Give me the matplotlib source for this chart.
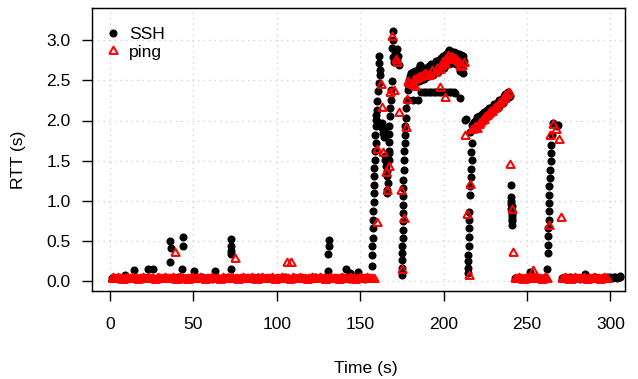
import matplotlib
matplotlib.use("Agg")
import matplotlib.pyplot as plt
import numpy as np

plt.rcParams['font.family'] = ['Liberation Sans', 'DejaVu Sans']

# ---------------- data ----------------
# baseline segments: start time, step (s), RTT values
ssh_base1_start, ssh_base1_step = 1, 2
ssh_base1 = [0.03, 0.03, 0.02, 0.03, 0.04, 0.03, 0.03, 0.02, 0.03, 0.03,
             0.03, 0.04, 0.03, 0.02, 0.03, 0.03, 0.03, 0.03, 0.02, 0.03,
             0.04, 0.03, 0.03, 0.03, 0.02, 0.03, 0.03, 0.04, 0.03, 0.03,
             0.02, 0.03, 0.03, 0.03, 0.03, 0.04, 0.03, 0.02, 0.03, 0.03,
             0.03, 0.03, 0.02, 0.03, 0.04, 0.03, 0.03, 0.03, 0.02, 0.03,
             0.03, 0.03, 0.04, 0.03, 0.02, 0.03, 0.03, 0.03, 0.03, 0.02,
             0.03, 0.04, 0.03, 0.03, 0.03, 0.02, 0.03, 0.03, 0.03, 0.04,
             0.03, 0.02, 0.03, 0.03, 0.03, 0.03, 0.02, 0.03]
ssh_base2_start, ssh_base2_step = 243, 2
ssh_base2 = [0.03, 0.02, 0.03, 0.03, 0.04, 0.03, 0.03, 0.02, 0.03, 0.03]
ssh_base3_start, ssh_base3_step = 271, 1
ssh_base3 = [0.03, 0.03, 0.02, 0.03, 0.03, 0.04, 0.03, 0.02, 0.03, 0.03,
             0.03, 0.02, 0.03, 0.04, 0.03, 0.03, 0.02, 0.03, 0.03, 0.03,
             0.04, 0.03, 0.03, 0.02, 0.03, 0.03, 0.03, 0.04, 0.03, 0.04,
             0.03, 0.05, 0.04, 0.03, 0.05, 0.05]

ping_base1_start, ping_base1_step = 1, 1
ping_base1 = [0.02, 0.03, 0.02, 0.02, 0.03, 0.02, 0.02, 0.01, 0.02, 0.03,
              0.02, 0.02, 0.02, 0.03, 0.02, 0.02, 0.01, 0.02, 0.02, 0.03,
              0.02, 0.02, 0.03, 0.02, 0.02, 0.02, 0.01, 0.02, 0.03, 0.02,
              0.02, 0.02, 0.03, 0.02, 0.02, 0.02, 0.02, 0.03, 0.02, 0.01,
              0.02, 0.03, 0.02, 0.02, 0.02, 0.01, 0.02, 0.02, 0.03, 0.02,
              0.02, 0.02, 0.02, 0.03, 0.02, 0.02, 0.01, 0.02, 0.02, 0.02,
              0.03, 0.02, 0.02, 0.02, 0.02, 0.01, 0.02, 0.03, 0.02, 0.02,
              0.02, 0.02, 0.03, 0.02, 0.02, 0.02, 0.01, 0.02, 0.02, 0.03,
              0.02, 0.02, 0.02, 0.02, 0.03, 0.02, 0.02, 0.01, 0.02, 0.02,
              0.03, 0.02, 0.02, 0.02, 0.02, 0.02, 0.03, 0.02, 0.01, 0.02,
              0.02, 0.02, 0.03, 0.02, 0.02, 0.02, 0.02, 0.01, 0.02, 0.03,
              0.02, 0.02, 0.02, 0.03, 0.02, 0.02, 0.02, 0.01, 0.02, 0.02,
              0.03, 0.02, 0.02, 0.02, 0.02, 0.03, 0.02, 0.02, 0.01, 0.02,
              0.02, 0.03, 0.02, 0.02, 0.02, 0.02, 0.01, 0.02, 0.03, 0.02,
              0.02, 0.02, 0.02, 0.03, 0.02, 0.02, 0.01, 0.02, 0.02, 0.03,
              0.02, 0.02, 0.02, 0.03, 0.02, 0.02, 0.02, 0.02]
ping_base2_start, ping_base2_step = 243, 1
ping_base2 = [0.02, 0.02, 0.03, 0.02, 0.02, 0.01, 0.02, 0.03, 0.02, 0.02,
              0.02, 0.02, 0.03, 0.02, 0.02, 0.02, 0.01, 0.02, 0.03, 0.02]
ping_base3_start, ping_base3_step = 271, 1
ping_base3 = [0.02, 0.02, 0.03, 0.02, 0.02, 0.01, 0.02, 0.02, 0.03, 0.02,
              0.02, 0.02, 0.02, 0.03, 0.02, 0.01, 0.02, 0.02, 0.02, 0.03,
              0.02, 0.02, 0.02, 0.01, 0.02, 0.03, 0.02, 0.02]

# SSH samples away from the baseline (time s, RTT s)
ssh_t = [9.2, 14.6, 22.6, 25.8, 36.0, 36.4, 36.2, 43.8, 43.8, 43.4, 50.6, 62.9,
         72.3, 72.3, 72.3, 72.3, 72.3, 131.1, 131.1, 130.9, 130.9, 141.5, 144.0, 148.5,
         # first outage column
         156.9, 157.3, 157.3, 157.5, 157.9, 157.9, 157.9, 158.3, 158.3, 158.3, 158.3,
         158.3, 158.9, 158.9, 159.5, 159.5, 159.5, 159.9, 160.3, 160.7, 161.5, 161.9,
         161.9, 161.5, 161.5, 159.1, 159.3, 159.9,
         # cluster
         162.9, 163.3, 163.9, 164.5, 164.9, 165.5, 165.9, 166.3, 166.9, 166.3, 165.9,
         167.5, 167.5, 164.1, 165.1,
         # second column
         169.9, 169.5, 168.9, 171.9, 172.9, 173.5, 169.5, 170.3, 168.9, 168.3, 168.3,
         167.9, 167.9, 167.5, 167.5, 167.5, 167.5, 171.0, 172.3,
         # third column
         174.9, 174.9, 175.3, 175.3, 175.3, 175.5, 175.5, 175.5, 175.9, 175.9, 175.9,
         175.9, 175.9, 176.3, 176.3, 176.3, 176.9, 176.9, 176.9, 177.5, 177.5, 177.9,
         # upper band 1
         178.5, 178.5, 179.0, 179.5, 180.0, 180.0, 180.5, 181.0, 181.5, 181.5, 182.0,
         182.5, 183.0, 183.0, 183.5, 184.0, 184.5, 185.0, 185.0, 185.5, 186.0, 186.0,
         186.5, 187.0, 187.5, 188.0, 188.0, 188.5, 189.0, 189.5, 190.0, 190.0, 190.5,
         191.0, 191.0, 191.5, 192.0, 192.5, 193.0, 193.0, 193.5, 194.0, 194.0, 194.5,
         195.0, 195.5, 195.5, 196.0, 196.5, 197.0, 197.0, 197.5, 198.0, 198.0, 198.5,
         199.0, 199.5, 199.5, 200.0, 200.5, 200.5, 201.0, 201.5, 202.0, 202.0, 202.5,
         203.0, 203.5, 203.5, 204.0, 204.5, 205.0, 205.0, 205.5, 206.0, 206.0, 206.5,
         207.0, 207.5, 207.5, 208.0, 208.5, 209.0, 209.0, 209.5, 210.0, 210.0, 210.5,
         211.0, 211.0, 211.5, 211.5, 212.0,
         # lower flat line
         178.9, 181.8, 184.8, 186.5, 188.0, 189.5, 191.0, 192.5, 194.0, 195.5, 197.0,
         198.5, 200.0, 201.5, 203.0, 204.5, 206.0, 207.0, 209.8,
         # fourth column
         213.4, 216.8, 216.8, 216.8, 216.4, 215.8, 215.8, 215.4, 215.4, 215.4, 215.2,
         215.2, 214.8, 214.8, 214.8, 214.8, 216.6, 216.2,
         # upper band 2
         212.8, 216.1, 217.5, 218.0, 218.5, 219.0, 219.5, 220.0, 220.5, 221.0, 221.5,
         222.0, 222.5, 223.0, 223.5, 224.0, 224.5, 225.0, 225.5, 226.0, 226.5, 227.0,
         227.5, 228.0, 228.5, 229.0, 229.5, 230.0, 230.5, 231.0, 231.5, 232.0, 232.5,
         233.0, 233.5, 234.0, 234.5, 235.0, 235.5, 236.0, 236.5, 237.0, 237.5, 238.0,
         238.5, 239.0, 239.5, 240.0,
         # fifth column
         240.2, 240.4, 240.4, 240.6, 240.6, 240.8, 240.8, 240.8, 241.0, 241.0, 241.2,
         241.2, 251.8,
         # sixth column
         262.2, 262.4, 262.8, 262.8, 262.8, 263.2, 263.2, 263.2, 263.4, 263.4, 263.8,
         263.8, 264.2, 264.2, 264.2, 264.8, 265.8, 266.8, 267.8, 268.8, 284.8, 305.8]
ssh_y = [0.077, 0.134, 0.150, 0.142, 0.233, 0.404, 0.492, 0.542, 0.429, 0.150, 0.121, 0.120,
         0.517, 0.433, 0.375, 0.330, 0.140, 0.507, 0.436, 0.330, 0.125, 0.146, 0.090, 0.112,
         0.179, 0.325, 0.429, 0.533, 0.658, 0.762, 0.866, 0.978, 1.094, 1.199, 1.303,
         1.407, 1.511, 1.615, 1.719, 1.927, 2.010, 2.135, 2.239, 2.364, 2.468, 2.572,
         2.634, 2.717, 2.801, 1.820, 2.070, 1.990,
         1.968, 1.906, 1.844, 1.885, 1.511, 1.427, 1.365, 1.303, 1.219, 1.136, 1.094,
         1.594, 1.511, 1.800, 1.560,
         3.113, 3.009, 2.905, 2.892, 2.809, 2.697, 2.790, 2.726, 2.489, 2.376, 2.260,
         2.156, 2.052, 1.935, 1.835, 1.727, 1.615, 2.850, 2.760,
         0.075, 0.158, 0.262, 0.345, 0.429, 0.533, 0.637, 0.741, 0.845, 0.949, 1.053,
         1.157, 1.261, 1.386, 1.511, 1.615, 1.719, 1.823, 1.927, 2.031, 2.156, 2.260,
         2.44, 2.38, 2.50, 2.42, 2.55, 2.46, 2.59, 2.44, 2.52, 2.60, 2.47,
         2.56, 2.50, 2.62, 2.48, 2.58, 2.53, 2.60, 2.49, 2.66, 2.69, 2.55,
         2.51, 2.62, 2.56, 2.65, 2.52, 2.58, 2.63, 2.54, 2.66, 2.57, 2.61,
         2.68, 2.55, 2.62, 2.58, 2.70, 2.60, 2.66, 2.57, 2.71, 2.63, 2.59,
         2.68, 2.62, 2.74, 2.66, 2.60, 2.72, 2.67, 2.76, 2.64, 2.70, 2.78,
         2.68, 2.74, 2.81, 2.70, 2.79, 2.66, 2.75, 2.83, 2.72, 2.80, 2.86,
         2.76, 2.88, 2.70, 2.82, 2.77, 2.85, 2.72, 2.80, 2.86, 2.75, 2.82,
         2.78, 2.84, 2.71, 2.80, 2.76, 2.83, 2.68, 2.79, 2.74, 2.62, 2.82,
         2.77, 2.65, 2.80, 2.59, 2.74,
         2.26, 2.26, 2.25, 2.35, 2.35, 2.35, 2.35, 2.35, 2.35, 2.35, 2.35,
         2.35, 2.35, 2.35, 2.35, 2.35, 2.35, 2.34, 2.28,
         2.018, 1.948, 1.719, 1.511, 1.394, 1.178, 1.074, 0.853, 0.762, 0.658, 0.545,
         0.437, 0.325, 0.241, 0.158, 0.096, 1.610, 1.290,
         2.01, 1.86, 1.90, 1.98, 1.93, 2.00, 1.92, 2.04, 1.96, 2.02, 2.06,
         1.99, 2.04, 2.08, 2.01, 2.06, 2.11, 2.04, 2.09, 2.13, 2.06, 2.11,
         2.15, 2.09, 2.13, 2.17, 2.11, 2.16, 2.20, 2.14, 2.18, 2.22, 2.16,
         2.21, 2.25, 2.19, 2.23, 2.27, 2.22, 2.30, 2.25, 2.33, 2.27, 2.31,
         2.35, 2.29, 2.33, 2.30,
         1.199, 1.050, 0.990, 0.960, 0.900, 0.928, 0.865, 0.803, 0.830, 0.770, 0.740,
         0.699, 0.104,
         0.146, 0.346, 0.449, 0.553, 0.658, 0.762, 0.865, 0.970, 1.074, 1.178, 1.282,
         1.386, 1.490, 1.594, 1.698, 1.823, 1.968, 1.948, 1.930, 1.948, 0.087, 0.054]

# ping samples away from the baseline (time s, RTT s)
ping_t = [39.0, 74.8, 106.3, 108.5,
          160.2, 160.2, 162.2, 163.2, 163.8, 165.2, 167.2, 166.1, 174.2, 173.2, 176.2,
          175.2, 177.2, 178.2, 169.2, 171.2, 172.2, 167.8, 170.1,
          178.8, 179.5, 180.8, 182.0, 182.8, 184.0, 184.8, 186.0, 187.8, 189.0, 190.5,
          191.8, 193.0, 194.8, 196.0, 197.8, 198.8, 199.8, 201.0, 202.0, 202.8, 204.0,
          205.0, 205.8, 207.0, 208.0, 209.0, 209.8, 211.0, 212.0, 197.8, 200.8,
          212.8, 215.8, 214.2, 215.2,
          216.8, 218.0, 219.0, 220.2, 221.0, 222.0, 223.0, 224.0, 225.0, 226.0, 227.0,
          228.0, 229.0, 230.0, 231.0, 232.0, 233.0, 234.0, 235.0, 236.0, 237.0, 238.0,
          239.0,
          239.8, 240.8, 241.8, 253.8,
          263.2, 270.2, 263.8, 265.8, 267.4, 269.4]
ping_y = [0.350, 0.267, 0.217, 0.217,
          0.724, 1.632, 2.443, 2.152, 1.590, 1.348, 1.423, 1.124, 1.120, 2.097, 0.767,
          0.134, 1.903, 2.260, 3.046, 2.755, 2.720, 2.347, 2.372,
          2.48, 2.45, 2.44, 2.50, 2.42, 2.52, 2.53, 2.54, 2.55, 2.58, 2.56,
          2.57, 2.62, 2.59, 2.64, 2.63, 2.68, 2.73, 2.70, 2.75, 2.80, 2.78,
          2.79, 2.76, 2.77, 2.74, 2.72, 2.67, 2.68, 2.72, 2.406, 2.280,
          1.810, 1.190, 0.824, 0.062,
          1.88, 1.90, 1.92, 1.89, 1.95, 1.97, 2.00, 2.01, 2.04, 2.05, 2.08,
          2.10, 2.10, 2.14, 2.16, 2.17, 2.20, 2.22, 2.24, 2.27, 2.30, 2.32,
          2.34,
          1.448, 0.886, 0.346, 0.116,
          0.678, 0.783, 1.810, 1.948, 1.885, 1.752]

series_labels = ["SSH", "ping"]
x_ticks = [0, 50, 100, 150, 200, 250, 300]
y_ticks = [0.0, 0.5, 1.0, 1.5, 2.0, 2.5, 3.0]


def seg(start, step, vals):
    return start + step * np.arange(len(vals))


ssh_all_t = np.concatenate([seg(ssh_base1_start, ssh_base1_step, ssh_base1),
                            seg(ssh_base2_start, ssh_base2_step, ssh_base2),
                            seg(ssh_base3_start, ssh_base3_step, ssh_base3),
                            ssh_t])
ssh_all_y = np.concatenate([ssh_base1, ssh_base2, ssh_base3, ssh_y])
ping_all_t = np.concatenate([seg(ping_base1_start, ping_base1_step, ping_base1),
                             seg(ping_base2_start, ping_base2_step, ping_base2),
                             seg(ping_base3_start, ping_base3_step, ping_base3),
                             ping_t])
ping_all_y = np.concatenate([ping_base1, ping_base2, ping_base3, ping_y])

# ---------------- figure ----------------
W, H = 638, 379
fig = plt.figure(figsize=(W / 100, H / 100), dpi=100)
L, R, T, B = 91.7, 625.0, 8.0, 290.7
ax = fig.add_axes([L / W, (H - B) / H, (R - L) / W, (B - T) / H])

tri = [(-1, -0.577), (1, -0.577), (0, 1.155), (-1, -0.577)]

ax.plot(ssh_all_t, ssh_all_y, linestyle='none', marker='o', ms=5.8, mew=0,
        color='black', label=series_labels[0], zorder=3)
ax.plot(ping_all_t, ping_all_y, linestyle='none', marker=tri, ms=7.0, mew=1.45,
        mfc='none', mec='#FF0000', label=series_labels[1], zorder=4)

px_per_s = 1.668
px_per_unit = 80.1
x0px, y0px = 110.0, 280.7
ax.set_xlim((L - x0px) / px_per_s, (R - x0px) / px_per_s)
ax.set_ylim((y0px - B) / px_per_unit, (y0px - T) / px_per_unit)

ax.set_xticks(x_ticks)
ax.set_yticks(y_ticks)
ax.set_yticklabels([f"{v:.1f}" for v in y_ticks])
ax.grid(True, color='#D3D3D3', linestyle=(0, (1, 3)), linewidth=1.0)
ax.set_axisbelow(True)

fs = 12.6
ax.tick_params(axis='both', direction='out', length=7.5, width=1.0,
               labelsize=fs, color='black')
ax.tick_params(axis='x', pad=11.5)
ax.tick_params(axis='y', pad=7.5)
for sp in ax.spines.values():
    sp.set_linewidth(1.05)
    sp.set_color('black')

ax.set_xlabel('Time (s)', fontsize=fs, va='center')
ax.set_ylabel('RTT (s)', fontsize=fs, va='center')
ax.xaxis.set_label_coords((366 - L) / (R - L), (B - 368) / (B - T))
ax.yaxis.set_label_coords((18 - L) / (R - L), (B - 160) / (B - T))

leg = ax.legend(loc='upper left', bbox_to_anchor=(7 / (R - L), 1 - 12 / (B - T)),
                frameon=False, fontsize=fs, handlelength=0.8, handletextpad=0.55,
                borderaxespad=0.0, borderpad=0.4, labelspacing=0.16,
                markerscale=1.0)

fig.savefig('out.png', dpi=100)
